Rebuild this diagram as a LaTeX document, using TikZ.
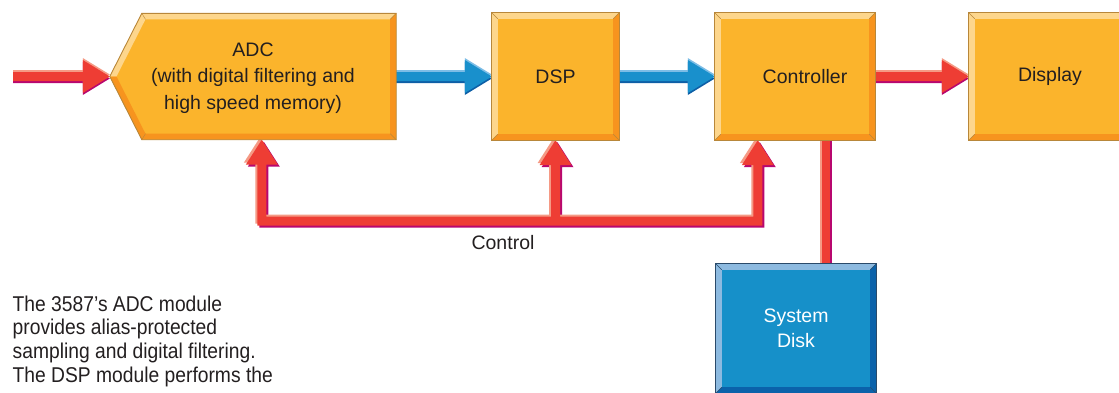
\documentclass[tikz,border=0pt]{standalone}
\usepackage{fontspec}
\setmainfont{Liberation Sans}
\newfontfamily\notefont{Liberation Sans}[FakeStretch=0.9]
\usetikzlibrary{calc}

% palette
\definecolor{ink}{HTML}{231F20}
\definecolor{ambmain}{HTML}{FBB42C}
\definecolor{amblight}{HTML}{FDD68C}
\definecolor{ambdark}{HTML}{F7941E}
\definecolor{ambline}{HTML}{B8873A}
\definecolor{redmain}{HTML}{EE3D34}
\definecolor{redlight}{HTML}{F59A85}
\definecolor{reddark}{HTML}{B8076F}
\definecolor{bluemain}{HTML}{1990CC}
\definecolor{bluelight}{HTML}{7DBDE6}
\definecolor{bluedark}{HTML}{0E5FA6}
\definecolor{diskmain}{HTML}{1690C9}
\definecolor{disklight}{HTML}{8DBAE0}
\definecolor{diskdark}{HTML}{0B62AA}
\definecolor{diskline}{HTML}{2A4A6A}

\pgfdeclarelayer{links}
\pgfdeclarelayer{boxes}
\pgfsetlayers{links,boxes,main}

% bevel width of the blocks
\newcommand\bv{6}

% 3-D ribbon: dark copy shifted one way, light copy the other, main colour on top
% #1 palette, #2/#3 shift, #4 path
\newcommand\ribbon[4]{%
  \begin{scope}[transform canvas={shift={(#2,-#3)}}]\fill[#1dark] #4;\end{scope}
  \begin{scope}[transform canvas={shift={(-#2,#3)}}]\fill[#1light] #4;\end{scope}
  \fill[#1main] #4;}

% horizontal arrow pointing right: #1 palette, #2 from, #3 to (tip)
\newcommand\harrow[3]{%
  \ribbon{#1}{0pt}{2pt}{let \p1=(#2), \p2=(#3) in
    (\x1,\y2+4.5pt) -- (\x2-27pt,\y2+4.5pt) -- (\x2-27pt,\y2+16.5pt) -- (\x2,\y2)
    -- (\x2-27pt,\y2-16.5pt) -- (\x2-27pt,\y2-4.5pt) -- (\x1,\y2-4.5pt) -- cycle}}

% bevelled block behind a node: #1 node, #2 palette
\newcommand\bevelbox[2]{%
  \fill[#2main] (#1.north west) rectangle (#1.south east);
  \fill[#2light] (#1.north west) -- (#1.north east) -- ($(#1.north east)+(-\bv,\bv)$)
    -- ($(#1.north west)+(\bv,\bv)$) -- ($(#1.south west)+(\bv,-\bv)$) -- (#1.south west) -- cycle;
  \fill[#2dark] (#1.south west) -- (#1.south east) -- (#1.north east) -- ($(#1.north east)+(-\bv,\bv)$)
    -- ($(#1.south east)+(-\bv,-\bv)$) -- ($(#1.south west)+(\bv,-\bv)$) -- cycle;
  \draw[#2line, line width=0.4pt]
    (#1.north west) -- ($(#1.north west)+(\bv,\bv)$)
    (#1.north east) -- ($(#1.north east)+(-\bv,\bv)$)
    (#1.south east) -- ($(#1.south east)+(-\bv,-\bv)$)
    (#1.south west) -- ($(#1.south west)+(\bv,-\bv)$);
  \draw[#2line, line width=0.9pt] (#1.north west) rectangle (#1.south east);}

\begin{document}
\begin{tikzpicture}[x=1pt, y=-1pt,
  blk/.style={rectangle, inner sep=0pt, text=ink, align=center,
              font=\fontsize{19.5}{26.5}\selectfont},
  lbl/.style={inner sep=0pt, text=ink, font=\fontsize{19.5}{24}\selectfont},
  notetext/.style={inner sep=0pt, text=ink, align=left,
              font=\notefont\fontsize{21.4}{23.7}\selectfont}]

\useasboundingbox (0,0) rectangle (1119,392);

% blocks
\node[blk, minimum width=286pt, minimum height=126pt] (adc) at (253,76.5)
  {\rule{0pt}{17pt}ADC\\(with digital filtering and\\high speed memory)};
\node[blk, minimum width=127pt, minimum height=127pt] (dsp) at (555.5,76.5) {DSP};
\node[blk, minimum width=160pt, minimum height=127pt,
      label={[blk, xshift=10pt]center:Controller}] (ctrl) at (795,76.5) {};
\node[blk, minimum width=162pt, minimum height=127pt] (disp) at (1050,76.5) {Display};
\node[blk, minimum width=160pt, minimum height=129pt, text=white,
      font=\fontsize{19.5}{25}\selectfont] (disk) at (796,328.5) {System\\Disk};

% control bus points
\coordinate (in) at (13,76);
\coordinate (t1) at ($(adc.south west)+(152,0)$);
\coordinate (t2) at (dsp.south);
\coordinate (t3) at ($(ctrl.south west)+(43,0)$);
\coordinate (ctl) at (510,221);
\coordinate (tap) at ($(ctrl.south)+(31,0)$);
\node[lbl] (ctllabel) at (503,243) {Control};

\node[notetext, anchor=north west] (note) at (12.5,295.5)
  {The 3587’s ADC module\\provides alias-protected\\sampling and digital filtering.\\The DSP module performs the};

% connectors
\begin{pgfonlayer}{links}
  \harrow{red}{in}{adc.west}
  \harrow{blue}{adc.east}{dsp.west}
  \harrow{blue}{dsp.east}{ctrl.west}
  \harrow{red}{ctrl.east}{disp.west}
  \ribbon{red}{2pt}{0pt}{let \p1=(tap), \p2=(disk.north) in
    (\x1-4pt,\y1) rectangle (\x1+4pt,\y2)}
  \ribbon{red}{2pt}{2pt}{let \p1=(t1), \p2=(t2), \p3=(t3), \p4=(ctl) in
    (\x1-4.5pt,\y4-4.5pt) -- (\x3+4.5pt,\y4-4.5pt) -- (\x3+4.5pt,\y3-25pt)
    -- (\x3+16pt,\y3-25pt) -- (\x3,\y3) -- (\x3-16pt,\y3-25pt) -- (\x3-4.5pt,\y3-25pt)
    -- (\x3-4.5pt,\y4+4.5pt) -- (\x2+4.5pt,\y4+4.5pt) -- (\x2+4.5pt,\y2-25pt)
    -- (\x2+16pt,\y2-25pt) -- (\x2,\y2) -- (\x2-16pt,\y2-25pt) -- (\x2-4.5pt,\y2-25pt)
    -- (\x2-4.5pt,\y4+4.5pt) -- (\x1+4.5pt,\y4+4.5pt) -- (\x1+4.5pt,\y1-25pt)
    -- (\x1+16pt,\y1-25pt) -- (\x1,\y1) -- (\x1-16pt,\y1-25pt) -- (\x1-4.5pt,\y1-25pt) -- cycle}
\end{pgfonlayer}

% block bodies
\begin{pgfonlayer}{boxes}
  % ADC: pentagon pointing at its input
  \coordinate (a1) at (adc.west);
  \coordinate (a2) at ($(adc.north west)+(32,0)$);
  \coordinate (a3) at (adc.north east);
  \coordinate (a4) at (adc.south east);
  \coordinate (a5) at ($(adc.south west)+(32,0)$);
  \coordinate (b1) at ($(adc.west)+(6.7,0)$);
  \coordinate (b2) at ($(adc.north west)+(35.7,6)$);
  \coordinate (b3) at ($(adc.north east)+(-6,6)$);
  \coordinate (b4) at ($(adc.south east)+(-6,-6)$);
  \coordinate (b5) at ($(adc.south west)+(35.7,-6)$);
  \fill[ambmain] (a1) -- (a2) -- (a3) -- (a4) -- (a5) -- cycle;
  \fill[amblight] (a1) -- (a2) -- (a3) -- (b3) -- (b2) -- (b1) -- cycle;
  \fill[ambdark] (a1) -- (b1) -- (b5) -- (b4) -- (b3) -- (a3) -- (a4) -- (a5) -- cycle;
  \draw[ambline, line width=0.4pt] (a2) -- (b2) (a3) -- (b3) (a4) -- (b4) (a5) -- (b5);
  \draw[ambline, line width=0.9pt] (a1) -- (a2) -- (a3) -- (a4) -- (a5) -- cycle;

  \bevelbox{dsp}{amb}
  \bevelbox{ctrl}{amb}
  \bevelbox{disp}{amb}
  \bevelbox{disk}{disk}
\end{pgfonlayer}
\end{tikzpicture}
\end{document}
